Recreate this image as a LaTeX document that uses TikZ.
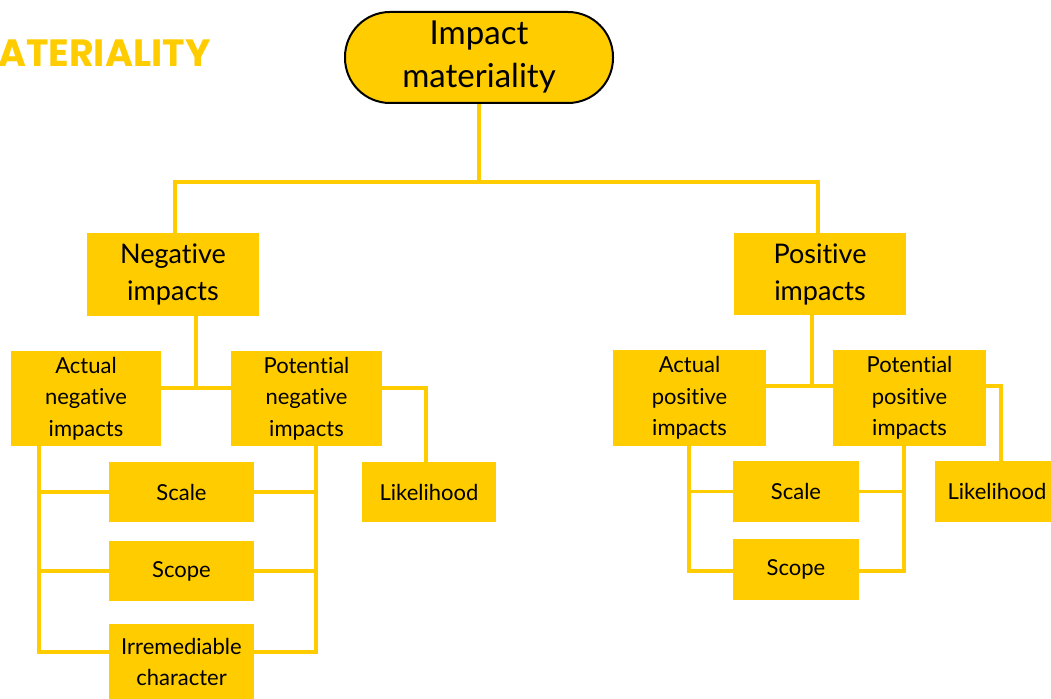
\documentclass[tikz,border=0pt]{standalone}
\usepackage{fontspec}
\setmainfont{Lato}[Ligatures=NoCommon]
\newfontfamily\titlefont{Poppins}
\usepackage{tikz}
\usetikzlibrary{positioning}
\definecolor{matyellow}{HTML}{FFCC00}

\begin{document}
\begin{tikzpicture}[x=1pt,y=-1pt,
    box/.style={fill=matyellow, inner sep=0pt, align=center,
      font=\fontsize{22}{31.5}\selectfont},
    bigbox/.style={box, font=\fontsize{27}{37}\selectfont},
    conn/.style={draw=matyellow, line width=3.5pt}]
  \useasboundingbox (0,0) rectangle (1051,698);
  \node[anchor=west, text=matyellow, inner sep=0pt,
    font=\titlefont\bfseries\fontsize{38}{40}\selectfont] (title) at (-2,53) {ATERIALITY};
  \node[box, draw=black, line width=2pt, rounded corners=45pt,
    minimum width=268pt, minimum height=91pt,
    font=\fontsize{33}{43}\selectfont] (top) at (479,57.5) {Impact\\materiality};
  \node[bigbox, minimum width=172pt, minimum height=83pt] (neg) at (173,274.5) {Negative\\impacts};
  \node[bigbox, minimum width=172pt, minimum height=82pt] (pos) at (820,274) {Positive\\impacts};
  % negative side
  \node[box, minimum width=150pt, minimum height=95pt] (actneg) at (86,398.5) {Actual\\negative\\impacts};
  \node[box, minimum width=151pt, minimum height=95pt] (potneg) at (306.5,398.5) {Potential\\negative\\impacts};
  \node[box, minimum width=134pt, minimum height=60pt] (likneg) at (429,492) {Likelihood};
  \node[box, minimum width=145pt, minimum height=60pt] (scaleneg) at (181.5,492) {Scale};
  \node[box, minimum width=145pt, minimum height=60pt] (scopeneg) at (181.5,571) {Scope};
  \node[box, minimum width=145pt, minimum height=76pt] (irrneg) at (181.5,662) {Irremediable\\character};
  % positive side
  \node[box, minimum width=153pt, minimum height=96pt] (actpos) at (689.5,398) {Actual\\positive\\impacts};
  \node[box, minimum width=153pt, minimum height=96pt] (potpos) at (909.5,398) {Potential\\positive\\impacts};
  \node[box, minimum width=124pt, minimum height=61pt] (likpos) at (997,491.5) {Likelihood};
  \node[box, minimum width=126pt, minimum height=61pt] (scalepos) at (796,491.5) {Scale};
  \node[box, minimum width=126pt, minimum height=61pt] (scopepos) at (796,569.5) {Scope};
  % junctions
  \coordinate (split) at (479,182);
  \coordinate (negj) at (196,388);
  \coordinate (posj) at (812,386);
  \coordinate (negl) at (39,652);
  \coordinate (negr) at (316,652);
  \coordinate (posl) at (689,571);
  \coordinate (posr) at (904,571);
  % connectors
  \draw[conn] (top.south) -- (split);
  \draw[conn] (neg.north -| 175,0) |- (split) -| (pos.north -| 818,0);
  \draw[conn] (negj |- neg.south) -- (negj);
  \draw[conn] (actneg.east |- negj) -- (potneg.west |- negj);
  \draw[conn] (potneg.east |- negj) -| (likneg.north -| 426,0);
  \draw[conn] (negl |- actneg.south) -- (negl) -- (negl -| irrneg.west);
  \draw[conn] (negl |- scaleneg.west) -- (scaleneg.west);
  \draw[conn] (negl |- scopeneg.west) -- (scopeneg.west);
  \draw[conn] (negr |- potneg.south) -- (negr) -- (negr -| irrneg.east);
  \draw[conn] (scaleneg.east) -- (negr |- scaleneg.east);
  \draw[conn] (scopeneg.east) -- (negr |- scopeneg.east);
  \draw[conn] (posj |- pos.south) -- (posj);
  \draw[conn] (actpos.east |- posj) -- (potpos.west |- posj);
  \draw[conn] (potpos.east |- posj) -| (likpos.north -| 1001,0);
  \draw[conn] (posl |- actpos.south) -- (posl) -- (posl -| scopepos.west);
  \draw[conn] (posl |- scalepos.west) -- (scalepos.west);
  \draw[conn] (posr |- potpos.south) -- (posr) -- (posr -| scopepos.east);
  \draw[conn] (scalepos.east) -- (posr |- scalepos.east);
\end{tikzpicture}
\end{document}
